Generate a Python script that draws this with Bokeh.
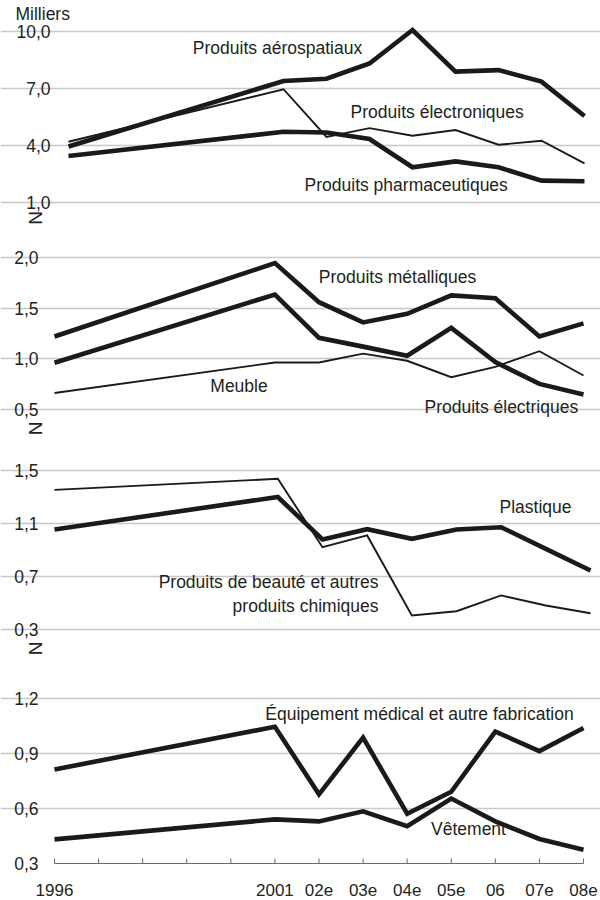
import math
from bokeh.plotting import figure
from bokeh.layouts import column
from bokeh.models import Range1d, FixedTicker
from bokeh.core.properties import value
from bokeh.embed import file_html
from bokeh.resources import INLINE

# ---------------- data ----------------
years = [1996, 2001, 2002, 2003, 2004, 2005, 2006, 2007, 2008]
tick_years = list(range(1996, 2009))
tick_labels = ["1996", "", "", "", "", "2001", "02e", "03e", "04e", "05e", "06", "07e", "08e"]

aerospatiaux = [3.95, 7.38, 7.50, 8.30, 10.05, 7.87, 7.95, 7.35, 5.55]
electroniques = [4.20, 6.95, 4.45, 4.91, 4.51, 4.81, 4.04, 4.25, 3.07]
pharmaceutiques = [3.45, 4.72, 4.68, 4.34, 2.86, 3.17, 2.86, 2.16, 2.13]

metalliques = [1.22, 1.947, 1.56, 1.36, 1.445, 1.627, 1.60, 1.22, 1.35]
electriques = [0.96, 1.636, 1.207, 1.12, 1.03, 1.306, 0.966, 0.751, 0.645]
meuble = [0.66, 0.963, 0.963, 1.05, 0.98, 0.817, 0.92, 1.075, 0.834]

beaute = [1.354, 1.437, 0.921, 1.01, 0.406, 0.438, 0.557, 0.481, 0.423]
plastique = [1.055, 1.30, 0.979, 1.057, 0.984, 1.055, 1.072, 0.909, 0.745]

medical = [0.814, 1.047, 0.678, 0.988, 0.572, 0.692, 1.021, 0.914, 1.04]
vetement = [0.432, 0.541, 0.530, 0.585, 0.504, 0.655, 0.530, 0.434, 0.375]

yticks1 = [1, 4, 7, 10]
yticks2 = [0.5, 1.0, 1.5, 2.0]
yticks3 = [0.3, 0.7, 1.1, 1.5]
yticks4 = [0.3, 0.6, 0.9, 1.2]

unit_label = "Milliers"
break_symbol = "N"

# ---------------- styling ----------------
W = 600
FONT = "Liberation Sans"
FS = "17.5px"
TXT = "#231f20"
LINE = "#1a1a1a"
GRID = "#c8c8c8"
AXIS = "#6a6a6a"
THICK = 4.6
THIN = 1.9


def fmt(t):
    return f"{t:.1f}".replace(".", ",")


class Panel:
    """One stacked panel; the frame spans the whole figure so that the tick
    labels, the unit label and the axis-break marks can sit left of 1996."""

    def __init__(self, top, bottom, x_px, y_px, yticks, grid_ticks=None):
        first, last = tick_years[0], tick_years[-1]
        self.sx = (x_px[1] - x_px[0]) / (last - first)
        self.x0 = first - x_px[0] / self.sx
        x1 = first + (W - x_px[0]) / self.sx
        v_lo, v_hi = yticks[0], yticks[-1]
        self.sy = (y_px[0] - y_px[1]) / (v_hi - v_lo)
        self.top = top
        self.y1 = v_hi + (y_px[1] - top) / self.sy
        y0 = v_lo - (bottom - y_px[0]) / self.sy
        p = figure(width=W, height=bottom - top,
                   x_range=Range1d(self.x0, x1), y_range=Range1d(y0, self.y1),
                   output_backend="svg", toolbar_location=None,
                   min_border=0, min_border_left=0, min_border_right=0,
                   min_border_top=0, min_border_bottom=0,
                   x_axis_location=None, y_axis_location=None)
        try:
            p.frame_align = False
        except Exception:
            pass
        p.outline_line_color = None
        p.background_fill_color = "white"
        p.border_fill_color = "white"
        p.xgrid.visible = False
        p.ygrid.ticker = FixedTicker(ticks=grid_ticks if grid_ticks is not None else yticks)
        p.ygrid.bounds = (first, last)
        p.ygrid.grid_line_color = GRID
        p.ygrid.grid_line_width = 1.5
        self.p = p

    def xd(self, px):
        return self.x0 + px / self.sx

    def yd(self, py):
        return self.y1 - (py - self.top) / self.sy

    def series(self, ys, width):
        self.p.line(years, ys, line_color=LINE, line_width=width, line_join="miter")

    def ylabels(self, yticks, right_px):
        self.p.text(x=[self.xd(right_px)] * len(yticks), y=yticks, text=[fmt(t) for t in yticks],
                    text_font=value(FONT), text_font_size=FS, text_color=TXT,
                    text_align="right", text_baseline="middle")

    def note(self, texts, px, py, align="center", size=FS, angle=0.0, color=TXT):
        self.p.text(x=[self.xd(v) for v in px], y=[self.yd(v) for v in py], text=texts,
                    text_font=value(FONT), text_font_size=size, text_color=color,
                    text_align=align, text_baseline="middle", angle=angle)

    def break_mark(self, px, py):
        self.note([break_symbol], [px], [py], size="19px", angle=math.pi / 2, color="#222222")

    def year_axis(self, base, tick_len_px, label_py):
        n = len(tick_years)
        p = self.p
        p.segment(x0=[tick_years[0]], y0=[base], x1=[tick_years[-1]], y1=[base],
                  line_color=AXIS, line_width=1)
        tick_top = base + tick_len_px / self.sy
        p.segment(x0=tick_years, y0=[base] * n, x1=tick_years, y1=[tick_top] * n,
                  line_color=AXIS, line_width=1)
        p.text(x=tick_years, y=[self.yd(label_py)] * n, text=tick_labels,
               text_font=value(FONT), text_font_size="17px", text_color=TXT,
               text_align="center", text_baseline="middle")


# Panel 1 : page rows 0-225
P1 = Panel(0, 225, (68, 584), (202.3, 30.5), yticks1)
P1.series(electroniques, THIN)
P1.series(aerospatiaux, THICK)
P1.series(pharmaceutiques, THICK)
P1.ylabels(yticks1, 50)
P1.note(["Produits aérospatiaux", "Produits électroniques", "Produits pharmaceutiques"],
        [277, 436.7, 405.7], [47, 111.7, 184])
P1.note([unit_label], [15], [13.5], align="left")
P1.break_mark(35, 217.5)

# Panel 2 : page rows 225-440
P2 = Panel(225, 440, (54, 583), (408.7, 257.3), yticks2)
P2.series(meuble, THIN)
P2.series(metalliques, THICK)
P2.series(electriques, THICK)
P2.ylabels(yticks2, 38)
P2.note(["Produits métalliques", "Meuble", "Produits électriques"],
        [397, 238.5, 500.8], [276.7, 385, 406.7])
P2.break_mark(35, 428)

# Panel 3 : page rows 440-655
P3 = Panel(440, 655, (54, 590), (629, 470), yticks3)
P3.series(beaute, THIN)
P3.series(plastique, THICK)
P3.ylabels(yticks3, 38)
P3.note(["Plastique"], [535], [506])
P3.note(["Produits de beauté et autres", "produits chimiques"], [378, 378], [581.7, 605], align="right")
P3.break_mark(35, 648)

# Panel 4 : page rows 655-900, including the year axis
P4 = Panel(655, 900, (54, 583), (863, 698.3), yticks4, grid_ticks=yticks4[1:])
P4.series(medical, THICK)
P4.series(vetement, THICK)
P4.year_axis(yticks4[0], 5, 889)
P4.ylabels(yticks4, 38)
P4.note(["Équipement médical et autre fabrication", "Vêtement"], [419, 468], [713.3, 828.3])

layout = column(P1.p, P2.p, P3.p, P4.p, spacing=0)
open("out.html", "w").write(file_html(layout, INLINE))
